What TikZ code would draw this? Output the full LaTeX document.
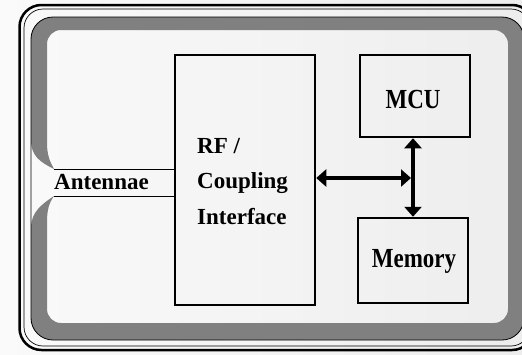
\documentclass[tikz,border=0pt]{standalone}
\usepackage{fontspec}
\setmainfont{Liberation Serif}
\usetikzlibrary{arrows.meta}
\begin{document}
\begin{tikzpicture}[x=1pt,y=-1pt,
  blockbox/.style={draw, line width=2.5pt, inner sep=0pt},
  lbl/.style={font=\fontsize{23}{26}\selectfont\bfseries, inner sep=0pt},
  dblarrow/.style={line width=4pt,
    {Triangle[length=10pt,width=17pt]}-{Triangle[length=10pt,width=17pt]}},
  thinline/.style={line width=0.8pt}
]
\useasboundingbox (0,0) rectangle (522,354);
\clip (0,0) rectangle (522,354);
\shade[left color=gray!4, right color=gray!14] (0,0) rectangle (522,354);

% outer frame
\draw[line width=2.5pt, rounded corners=22pt] (19.5,5) rectangle (534,350);
\draw[line width=0.7pt, rounded corners=19pt] (24,9) rectangle (530,346);

% hatched coil band
\fill[black!50]
  (54,169) .. controls (40,162) and (31,156) .. (31,140) -- (31,100)
  [rounded corners=22pt] -- (31,17) -- (524,17) -- (524,340) -- (31,340) -- (31,300)
  [sharp corners] -- (31,228)
  .. controls (31,212) and (42,204) .. (54,196)
  .. controls (49,203) and (47,210) .. (47,222) -- (47,260)
  [rounded corners=14pt] -- (47,323) -- (508,323) -- (508,30) -- (47,30) -- (47,80)
  [sharp corners] -- (47,143)
  .. controls (47,155) and (50,162) .. (54,169) -- cycle;
\draw[thinline, rounded corners=22pt] (31,17) rectangle (524,340);

% blocks
\node[blockbox, minimum width=140pt, minimum height=250pt] (rf) at (245,180) {};
\node[blockbox, minimum width=110pt, minimum height=82pt] (mcu) at (415,96) {};
\node[blockbox, minimum width=110pt, minimum height=85pt] (mem) at (413,260.5) {};

% texts
\node[lbl, anchor=base west] (rf1) at (197,153) {RF /};
\node[lbl, anchor=base west] (rf2) at (197,188) {Coupling};
\node[lbl, anchor=base west] (rf3) at (197,224) {Interface};
\node[lbl, anchor=base] (mcut) at (413,108) {\scalebox{1}[1.2]{MCU}};
\node[lbl, anchor=base] (memt) at (414,267) {\scalebox{1}[1.2]{Memory}};
\node[lbl, anchor=base] (ant) at (101.5,189) {Antennae};

% antenna leads
\coordinate (a1) at (54,169);
\coordinate (a2) at (54,196);
\draw[thinline] (a1) -- (a1 -| rf.west);
\draw[thinline] (a2) -- (a2 -| rf.west);

% bus arrows
\coordinate (j) at (413,178);
\draw[dblarrow] (rf.east |- j) -- ([xshift=-2pt]j);
\draw[dblarrow] (mcu.south -| j) -- (mem.north -| j);
\end{tikzpicture}
\end{document}
